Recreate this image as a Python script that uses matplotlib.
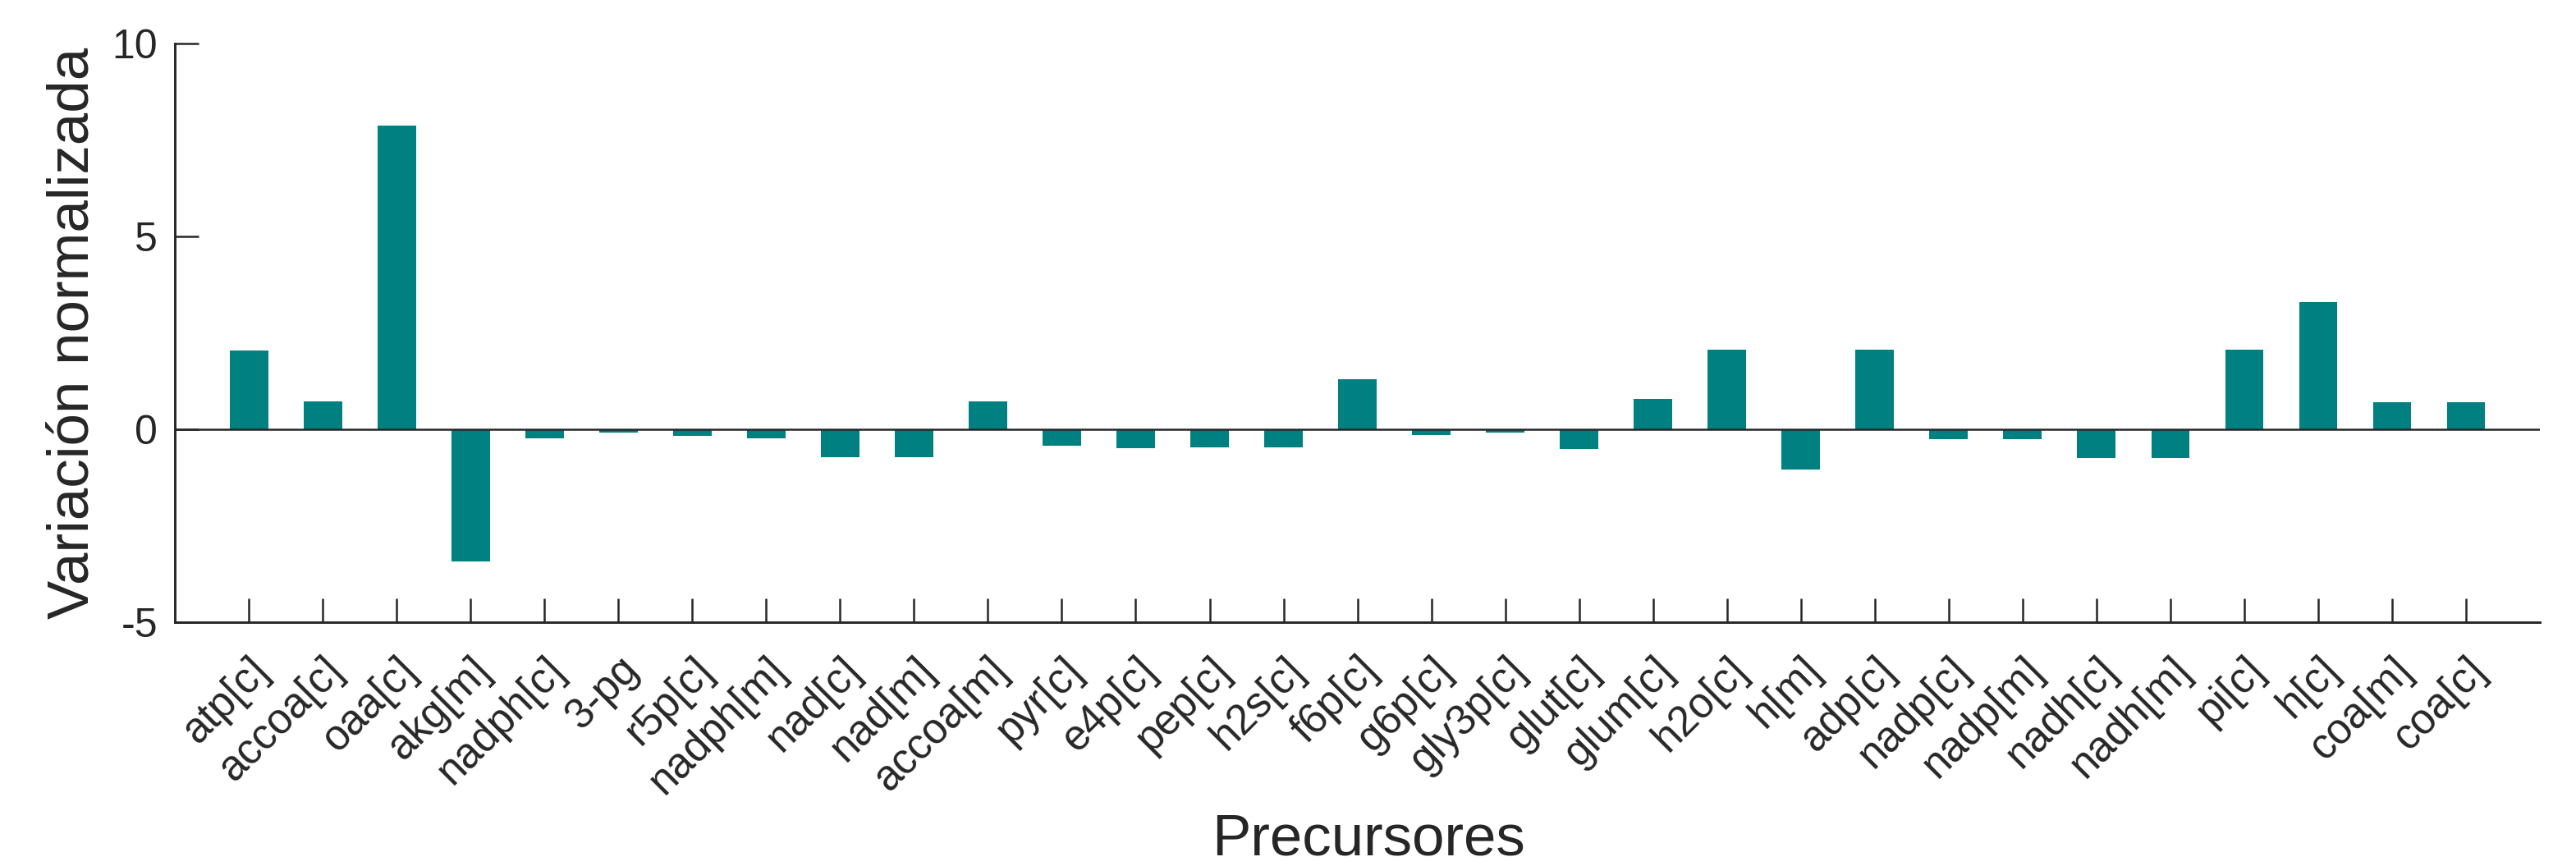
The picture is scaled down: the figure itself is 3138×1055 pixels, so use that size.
import numpy as np
import matplotlib
matplotlib.use("Agg")
import matplotlib.pyplot as plt
from matplotlib.transforms import ScaledTranslation

# ----- data -----
precursores = ["atp[c]", "accoa[c]", "oaa[c]", "akg[m]", "nadph[c]", "3-pg", "r5p[c]",
               "nadph[m]", "nad[c]", "nad[m]", "accoa[m]", "pyr[c]", "e4p[c]", "pep[c]",
               "h2s[c]", "f6p[c]", "g6p[c]", "gly3p[c]", "glut[c]", "glum[c]", "h2o[c]",
               "h[m]", "adp[c]", "nadp[c]", "nadp[m]", "nadh[c]", "nadh[m]", "pi[c]",
               "h[c]", "coa[m]", "coa[c]"]
variacion = [2.05, 0.72, 7.88, -3.43, -0.24, -0.08, -0.16,
             -0.24, -0.72, -0.72, 0.72, -0.43, -0.49, -0.47,
             -0.47, 1.29, -0.14, -0.085, -0.52, 0.79, 2.06,
             -1.04, 2.06, -0.25, -0.25, -0.74, -0.74, 2.06,
             3.30, 0.71, 0.71]
y_ticks = [-5, 0, 5, 10]

_teal, _text = "#008080", "#262626"

plt.rcParams["font.family"] = ["Liberation Sans", "DejaVu Sans"]

fig = plt.figure(figsize=(3138 / 300, 1055 / 300), dpi=300)
ax = fig.add_axes([0.0679, 0.2815, 0.9181, 0.6683])

x = np.arange(1, len(precursores) + 1)
ax.bar(x, variacion, width=0.52, color=_teal, zorder=2)
ax.axhline(0, color=_text, lw=0.6, zorder=3)

ax.set_xlim(0, len(precursores) + 1)
ax.set_ylim(-5, 10)
ax.set_yticks(y_ticks)
ax.set_yticklabels([str(v) for v in y_ticks])
ax.set_xticks(x)
ax.set_xticklabels(precursores, rotation=45, ha="right", va="top", rotation_mode="anchor")

# labels sit a little right of the tick, like the matlab export
shift = ScaledTranslation(2.4 / 72, 0, fig.dpi_scale_trans)
for lbl in ax.get_xticklabels():
    lbl.set_transform(lbl.get_transform() + shift)

for s in ["top", "right"]:
    ax.spines[s].set_visible(False)
for s in ["left", "bottom"]:
    ax.spines[s].set_color(_text)
    ax.spines[s].set_linewidth(0.7)

ax.tick_params(axis="both", direction="in", length=7, width=0.6, color=_text,
               labelcolor=_text)
ax.tick_params(axis="x", pad=8, labelsize=12.3)
ax.tick_params(axis="y", pad=5, labelsize=12)

ax.set_xlabel("Precursores", fontsize=17, color=_text, va="baseline")
ax.xaxis.set_label_coords(0.5045, -0.402)
ax.set_ylabel("Variación normalizada", fontsize=17, color=_text)
ax.yaxis.set_label_coords(-0.0316, 0.5)

fig.savefig("out.png", dpi=300)
